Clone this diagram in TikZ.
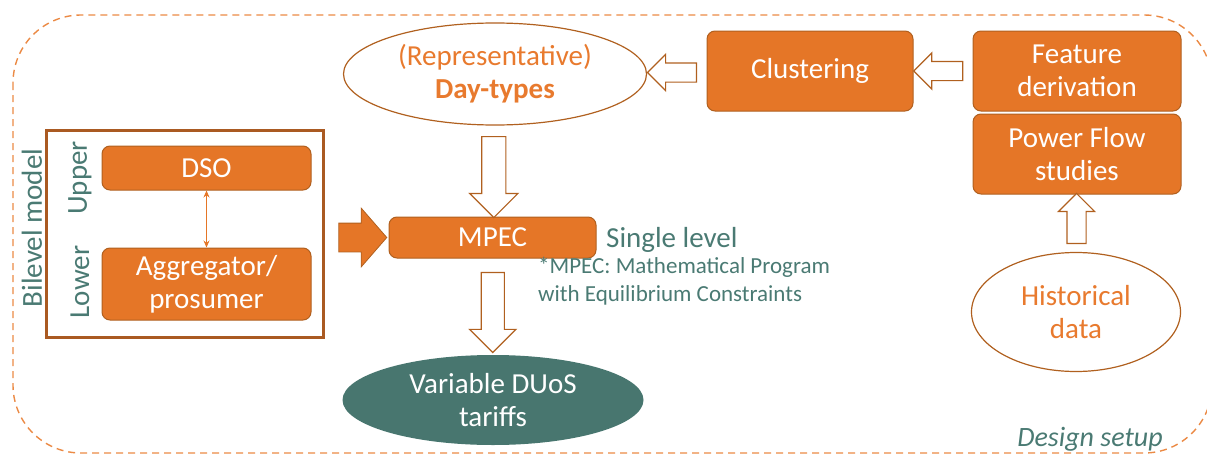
\documentclass[tikz,border=0pt]{standalone}
\usepackage{fontspec}
\setmainfont{Carlito}
\usetikzlibrary{shapes.geometric,shapes.arrows,arrows.meta,calc}
\definecolor{boxorange}{HTML}{E57627}
\definecolor{boxedge}{HTML}{B0601F}
\definecolor{frameedge}{HTML}{AA5A22}
\definecolor{tealtext}{HTML}{4A7A73}
\definecolor{tealfill}{HTML}{48766F}
\definecolor{orangetext}{HTML}{E87A2E}
\definecolor{dashorange}{HTML}{EB8A45}
\begin{document}
\begin{tikzpicture}[x=1pt, y=-1pt,
  every node/.style={font=\fontsize{29}{33}\selectfont, align=center, inner sep=0pt},
  stage/.style={draw=boxedge, fill=boxorange, text=white, rounded corners=8pt, line width=1pt},
  blob/.style={ellipse, draw=boxedge, line width=1.2pt, text=orangetext},
  hollow/.style={single arrow, draw=boxedge, fill=white, line width=1.2pt, single arrow head indent=0pt, inner xsep=0pt},
  note/.style={text=tealtext}]
\useasboundingbox (0,0) rectangle (1207,455);
% design setup frame
\draw[dashorange, line width=1.4pt, dash pattern=on 7pt off 5pt, rounded corners=68pt] (13,15) rectangle (1212,453);
\node[note, font=\fontsize{28}{32}\selectfont\itshape] (setup) at (1090,439) {Design setup};
% bilevel model
\node[draw=frameedge, line width=3pt, minimum width=277pt, minimum height=207pt] (bilevel) at (184.5,233.5) {};
\node[note, rotate=90] (bilabel) at (32,228) {Bilevel model};
\node[note, rotate=90] (upper) at (80,178) {Upper};
\node[note, rotate=90] (lower) at (80,282) {Lower};
\node[stage, minimum width=209pt, minimum height=44pt] (dso) at (206.5,168) {DSO};
\node[stage, minimum width=209pt, minimum height=72pt] (aggr) at (206.5,284) {Aggregator/\\prosumer};
\draw[<->, >={Stealth[length=7pt, width=6pt]}, boxorange, line width=1.3pt] (dso) -- (aggr);
% single level
\node[stage, minimum width=207pt, minimum height=41pt] (mpec) at (492.5,237.5) {MPEC};
\node[note, anchor=west] (single) at (606,240) {Single level};
\node[note, anchor=north west, align=left, font=\fontsize{23}{28}\selectfont] (mpecnote) at (538,257) {*MPEC: Mathematical Program\\with Equilibrium Constraints};
\node[ellipse, fill=tealfill, text=white, minimum width=301pt, minimum height=90pt] (duos) at (493,400) {Variable DUoS\\tariffs};
% data chain
\node[blob, minimum width=303pt, minimum height=102pt] (dayt) at (495,74) {(Representative)\\\textbf{Day-types}};
\node[stage, minimum width=206pt, minimum height=80pt] (clust) at (810,71) {Clustering};
\node[stage, minimum width=208pt, minimum height=80pt] (feat) at (1077,71) {Feature\\derivation};
\node[stage, minimum width=208pt, minimum height=80pt] (pflow) at (1077,154) {Power Flow\\studies};
\node[blob, minimum width=209pt, minimum height=119pt] (hist) at (1076,312) {Historical\\data};
% block arrows
\node[hollow, minimum height=81pt, inner ysep=11.5pt, single arrow head extend=12pt, rotate=-90] (a1) at ($(dayt.south)!0.5!(mpec.north)$) {};
\node[hollow, minimum height=49pt, inner ysep=9pt, single arrow head extend=8.5pt, rotate=180] (a2) at ($(clust.west)!0.5!(dayt.east)$) {};
\node[hollow, minimum height=49pt, inner ysep=9pt, single arrow head extend=8.5pt, rotate=180] (a3) at ($(feat.west)!0.5!(clust.east)$) {};
\node[hollow, minimum height=50pt, inner ysep=9pt, single arrow head extend=8.5pt, rotate=90] (a4) at ($(hist.north)!0.5!(pflow.south)$) {};
\node[hollow, minimum height=80pt, inner ysep=11pt, single arrow head extend=11.5pt, rotate=-90] (a5) at ($(mpec.south)!0.5!(duos.north)$) {};
\node[single arrow, fill=boxorange, draw=boxedge, line width=0.8pt, minimum height=48pt, inner xsep=0pt, inner ysep=14pt, single arrow head extend=15pt, single arrow tip angle=98, single arrow head indent=0pt] (a6) at ($(bilevel.east |- mpec.west)!0.5!(mpec.west)$) {};
\end{tikzpicture}
\end{document}
